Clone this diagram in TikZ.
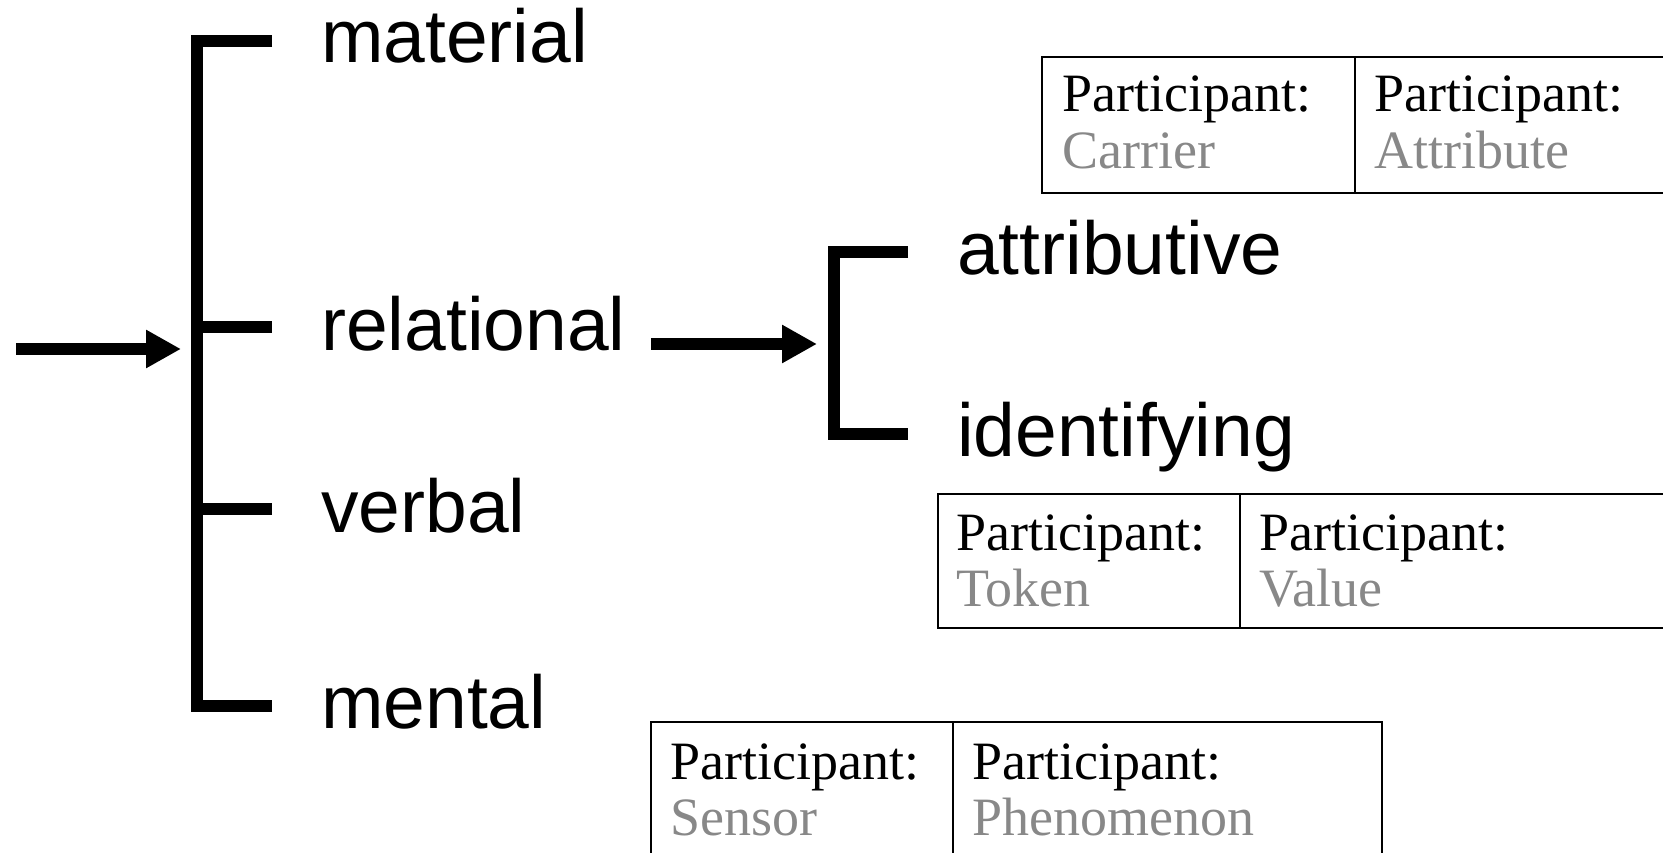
\documentclass[tikz,border=0pt]{standalone}
\usepackage{fontspec}
\setmainfont{Liberation Serif}
\newfontfamily\labfont{Liberation Sans}
\usetikzlibrary{arrows.meta}
\definecolor{rolegray}{RGB}{136,136,136}
\begin{document}
\begin{tikzpicture}[x=1pt,y=-1pt,
  lab/.style={font=\labfont\fontsize{75}{80}\selectfont, inner sep=0pt, anchor=base west},
  cell/.style={font=\fontsize{54}{57}\selectfont, inner sep=0pt, anchor=base west},
  role/.style={cell, text=rolegray},
  brk/.style={line width=12pt, line join=miter},
  arr/.style={line width=12pt, -{Triangle[length=35pt,width=36pt]}},
  box/.style={line width=2.5pt}]
\useasboundingbox (0,0) rectangle (1663,853);
\clip (0,0) rectangle (1663,853);

% first bracket
\coordinate (b1top) at (197,41);
\coordinate (b1bot) at (197,706);
\coordinate (bm) at (272,41);
\coordinate (br) at (272,327);
\coordinate (bv) at (272,509);
\coordinate (bme) at (272,706);
\draw[brk] (bm) -- (b1top) -- (b1bot) -- (bme);
\draw[brk] (b1top |- br) -- (br);
\draw[brk] (b1top |- bv) -- (bv);

% input arrow
\coordinate (in) at (16,349);
\coordinate (b1in) at (181,349);
\draw[arr] (in) -- (b1in);

% labels
\node[lab] (material) at (321,63) {material};
\node[lab] (relational) at (321,350) {relational};
\node[lab] (verbal) at (321,532) {verbal};
\node[lab] (mental) at (321,728) {mental};

% second arrow and bracket
\coordinate (a2s) at (651,344);
\coordinate (a2e) at (817,344);
\draw[arr] (a2s) -- (a2e);
\coordinate (b2top) at (834,252);
\coordinate (b2bot) at (834,434);
\coordinate (ba) at (908,252);
\coordinate (bi) at (908,434);
\draw[brk] (ba) -- (b2top) -- (b2bot) -- (bi);

\node[lab] (attributive) at (957,275) {attributive};
\node[lab] (identifying) at (957,456) {identifying};

% box 1
\draw[box] (1042,57) rectangle (1700,193);
\draw[box] (1355,57) -- (1355,193);
\node[cell] (p1a) at (1062,112) {Participant:};
\node[role] (carrier) at (1062,169) {Carrier};
\node[cell] (p1b) at (1374,112) {Participant:};
\node[role] (attribute) at (1374,169) {Attribute};

% box 2
\draw[box] (938,494) rectangle (1700,628);
\draw[box] (1240,494) -- (1240,628);
\node[cell] (p2a) at (956,550) {Participant:};
\node[role] (token) at (956,606) {Token};
\node[cell] (p2b) at (1259,550) {Participant:};
\node[role] (value) at (1259,606) {Value};

% box 3
\draw[box] (651,722) rectangle (1382,900);
\draw[box] (953,722) -- (953,900);
\node[cell] (p3a) at (670,779) {Participant:};
\node[role] (sensor) at (670,835) {Sensor};
\node[cell] (p3b) at (972,779) {Participant:};
\node[role] (phenomenon) at (972,835) {Phenomenon};
\end{tikzpicture}
\end{document}
